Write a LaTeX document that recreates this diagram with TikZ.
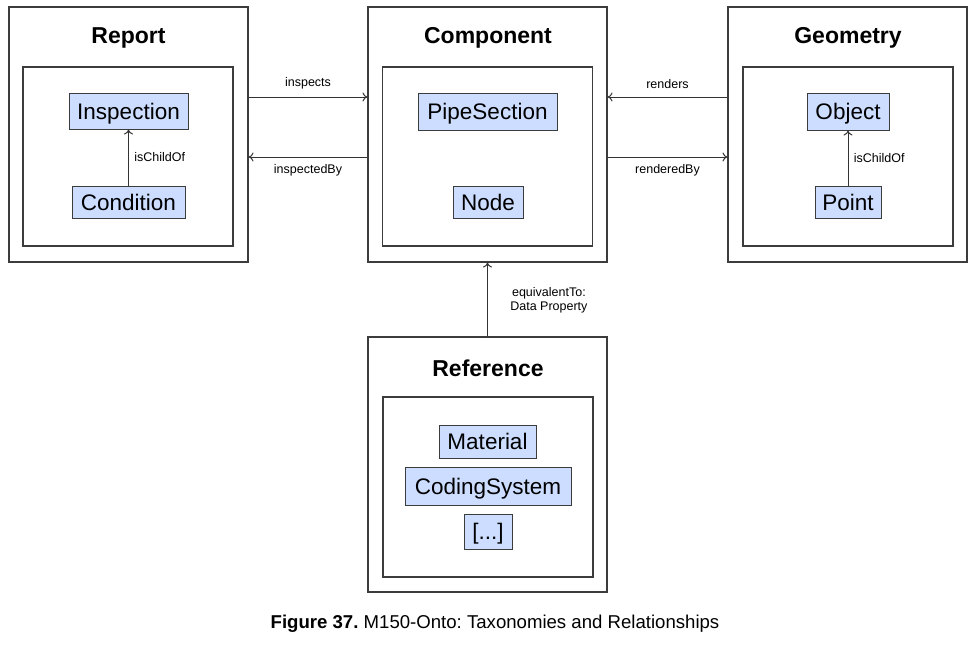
\documentclass[tikz,border=0pt]{standalone}
\usepackage{fontspec}
\setmainfont{Liberation Sans}
\usetikzlibrary{arrows.meta}
\definecolor{cls}{RGB}{204,221,255}
\definecolor{edge}{RGB}{60,60,60}
\frenchspacing
\begin{document}
\begin{tikzpicture}[x=1pt,y=-1pt,
  outer/.style={draw=edge,line width=1.1pt,minimum width=239pt,minimum height=255pt,inner sep=0pt},
  inner/.style={draw=edge,line width=1.1pt,minimum width=210pt,minimum height=179pt,inner sep=0pt},
  title/.style={font=\fontsize{23}{25}\selectfont\bfseries},
  cls/.style={draw=edge,fill=cls,line width=1pt,inner sep=0pt,font=\fontsize{22.5}{24}\selectfont,
    text height=20.7pt,text depth=4.5pt},
  lbl/.style={font=\fontsize{12.5}{13.5}\selectfont,align=center},
  conn/.style={draw=black!80,line width=1pt,-{To[length=5pt,width=9pt]}}
]
\useasboundingbox[fill=white] (0,0) rectangle (974,653);
% outer boxes
\node[outer] (rep) at (128.5,134.5) {};
\node[outer] (comp) at (487.5,134.5) {};
\node[outer] (geo) at (847.5,134.5) {};
\node[outer] (ref) at (487.5,464.5) {};
% inner boxes
\node[inner] (repi) at (128,156.5) {};
\node[inner] (compi) at (487.5,156.5) {};
\node[inner] (geoi) at (848,156.5) {};
\node[inner,minimum height=180pt] (refi) at (488,487) {};
% titles
\node[title] (repT) at (128.5,38) {Report};
\node[title] (compT) at (488,38) {Component};
\node[title] (geoT) at (848,38) {Geometry};
\node[title] (refT) at (488,368) {Reference};
% classes
\node[cls,minimum width=119pt,minimum height=36pt] (insp) at (128.5,111) {Inspection};
\node[cls,minimum width=113pt,minimum height=32pt] (cond) at (128.5,202) {Condition};
\node[cls,minimum width=139pt,minimum height=37pt] (pipe) at (487.5,111.5) {PipeSection};
\node[cls,minimum width=70pt,minimum height=32pt] (nd) at (488,202) {Node};
\node[cls,minimum width=82pt,minimum height=37pt] (obj) at (848,111.5) {Object};
\node[cls,minimum width=66pt,minimum height=32pt] (pt) at (848,202) {Point};
\node[cls,minimum width=97pt,minimum height=33pt] (mat) at (487.5,441.5) {Material};
\node[cls,minimum width=166pt,minimum height=38pt] (cod) at (488,486) {CodingSystem};
\node[cls,minimum width=48pt,minimum height=35pt] (etc) at (488,531.5) {[...]};
% connectors
\draw[conn] (cond) -- (insp) node[lbl,midway,right,xshift=2pt] {isChildOf};
\draw[conn] (pt) -- (obj) node[lbl,midway,right,xshift=2pt] {isChildOf};
\draw[conn] ([yshift=37.5pt]rep.east) -- ([yshift=37.5pt]comp.west)
  node[lbl,midway,above,yshift=4pt] {inspects};
\draw[conn] ([yshift=-22.5pt]comp.west) -- ([yshift=-22.5pt]rep.east)
  node[lbl,midway,below,yshift=-4pt] {inspectedBy};
\draw[conn] ([yshift=37.5pt]geo.west) -- ([yshift=37.5pt]comp.east)
  node[lbl,midway,above,yshift=5pt] {renders};
\draw[conn] ([yshift=-22.5pt]comp.east) -- ([yshift=-22.5pt]geo.west)
  node[lbl,midway,below,yshift=-4pt] {renderedBy};
\draw[conn] (ref.north) -- (comp.south)
  node[lbl,midway,right,xshift=19pt,yshift=-1pt] {equivalentTo:\\Data Property};
% caption
\node[font=\fontsize{18.6}{20}\selectfont] (cap) at (495,624) {\textbf{Figure 37.} M150-Onto: Taxonomies and Relationships};
\end{tikzpicture}
\end{document}
